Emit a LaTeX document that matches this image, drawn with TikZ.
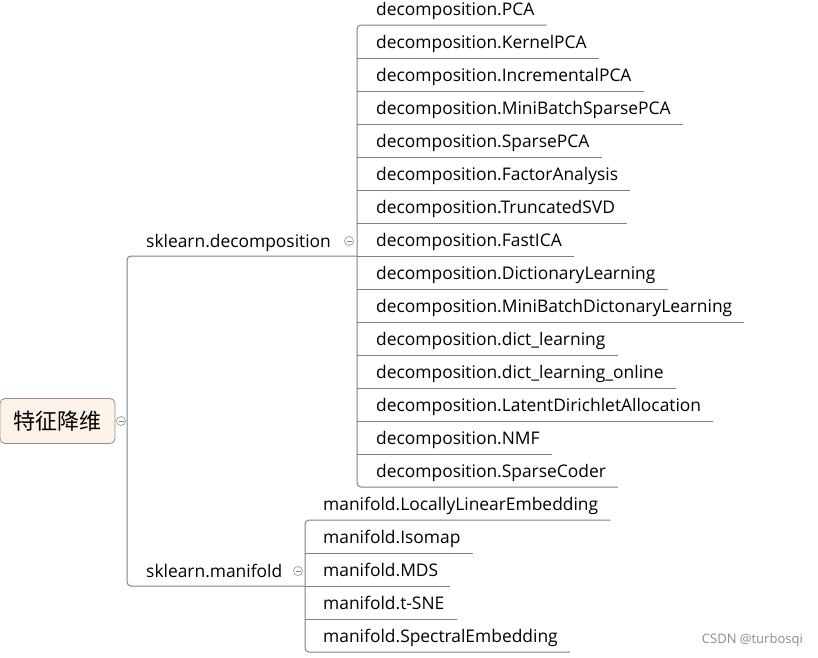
\documentclass[tikz,border=0pt]{standalone}
\usepackage{fontspec}
\setmainfont{Open Sans}
\newfontfamily\cjk{Noto Sans CJK SC}
\usetikzlibrary{calc}
\definecolor{linegray}{RGB}{128,128,128}
\definecolor{rootfill}{RGB}{253,242,232}
\definecolor{rootedge}{RGB}{150,140,130}
\begin{document}
\begin{tikzpicture}[x=1pt,y=-1pt,
  conn/.style={draw=linegray,line width=1pt},
  leaf/.style={anchor=west,inner sep=0pt,font=\fontsize{17.4}{20}\selectfont,text height=12,text depth=4},
  branch/.style={anchor=west,inner sep=0pt,font=\fontsize{17.4}{20}\selectfont,text height=12,text depth=4},
  rootbox/.style={draw=rootedge,fill=rootfill,rounded corners=5pt,minimum width=115pt,minimum height=45pt,inner sep=0pt,font=\cjk\fontsize{22}{24}\selectfont,line width=0.8pt},
  collapse/.style={circle,draw=linegray!80,fill=white,minimum size=9pt,inner sep=0pt,line width=0.7pt}]
\useasboundingbox (0,0) rectangle (818,657);
% root
\node[rootbox] (root) at (57.5,421) {特征降维};
% branches
\node[branch] (bdec) at (146,243) {sklearn.decomposition};
\node[branch] (bman) at (146,573) {sklearn.manifold};
% decomposition leaves
\foreach \i/\t in {1/PCA,2/KernelPCA,3/IncrementalPCA,4/MiniBatchSparsePCA,5/SparsePCA,6/FactorAnalysis,7/TruncatedSVD,8/FastICA,9/DictionaryLearning,10/MiniBatchDictonaryLearning,11/dict\_learning,12/dict\_learning\_online,13/LatentDirichletAllocation,14/NMF,15/SparseCoder}{
  \node[leaf] (d\i) at (376,{11+33*(\i-1)}) {decomposition.\t};
}
\foreach \i/\t in {1/LocallyLinearEmbedding,2/Isomap,3/MDS,4/t-SNE,5/SpectralEmbedding}{
  \node[leaf] (m\i) at (323,{506+33*(\i-1)}) {manifold.\t};
}
% coordinates for trunks
\coordinate (dtop) at (357,25);
\coordinate (dbot) at (357,487);
\coordinate (mtop) at (305,520);
\coordinate (mbot) at (305,652);
\coordinate (rtop) at (127,256);
\coordinate (rbot) at (127,586);
% root trunk with branch underlines
\draw[conn,rounded corners=4pt] (dtop |- rtop) -- (rtop) -- (rbot) -- (mtop |- rbot);
% decomposition trunk
\draw[conn,rounded corners=4pt] ($(d1.east)+(12,14)$) -- (dtop) -- (dbot) -- ($(d15.east)+(12,14)$);
\foreach \i in {2,...,14}{
  \draw[conn] (dtop |- {$(d\i.center)+(0,14)$}) -- ($(d\i.east)+(12,14)$);
}
% manifold trunk
\draw[conn,rounded corners=4pt] ($(m1.east)+(12,14)$) -- (mtop) -- (mbot) -- ($(m5.east)+(12,14)$);
\foreach \i in {2,3,4}{
  \draw[conn] (mtop |- {$(m\i.center)+(0,14)$}) -- ($(m\i.east)+(12,14)$);
}
% collapse icons
\foreach \n/\p in {c0/{(121,421)},c1/{(349,241)},c2/{(298,571)}}{
  \node[collapse] (\n) at \p {};
  \draw[linegray,line width=0.7pt] ([xshift=-2.5pt]\n.center) -- ([xshift=2.5pt]\n.center);
}
% watermark
\node[anchor=east,inner sep=0pt,text=black!45,font=\fontsize{13}{15}\selectfont] (wm) at (803,640) {CSDN @turbosqi};
\end{tikzpicture}
\end{document}
